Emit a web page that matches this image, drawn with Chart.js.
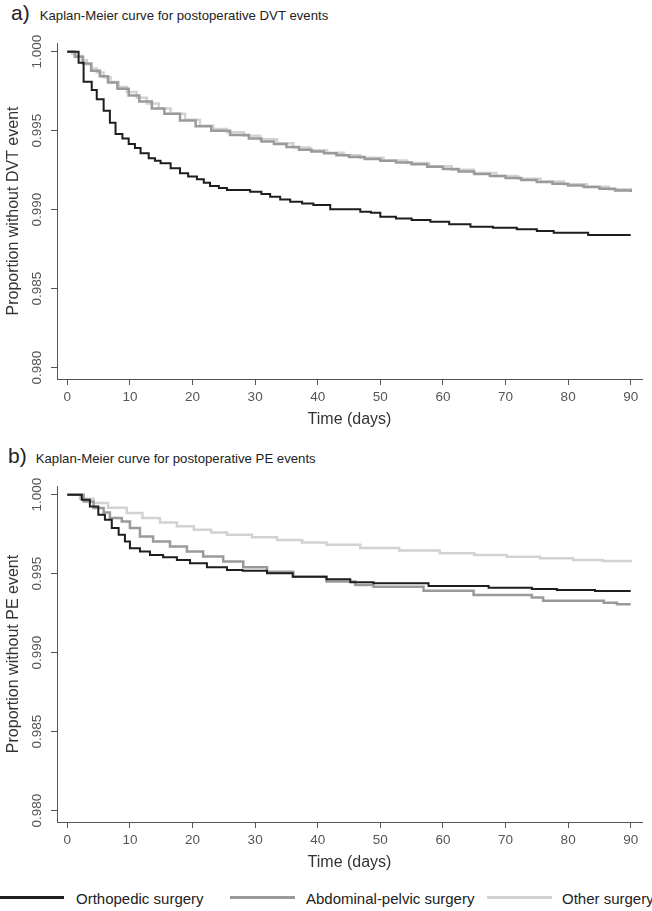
<!DOCTYPE html>
<html>
<head>
<meta charset="utf-8">
<script src="https://cdn.jsdelivr.net/npm/chart.js@4.4.1/dist/chart.umd.min.js"></script>
<style>
  body { margin: 0; background: #fff; font-family: "Liberation Sans", Arial, sans-serif; }
  #page { position: relative; width: 652px; height: 911px; overflow: hidden; }
  .ptitle { position: absolute; white-space: nowrap; color: #222; line-height: 24px; }
  .ptitle .lab { font-size: 21px; }
  .ptitle .txt { font-size: 13.2px; }
  .panel { position: absolute; left: 0; }
  .leg-line { position: absolute; height: 3px; }
  .leg-txt { position: absolute; font-size: 15px; line-height: 18px; color: #222; white-space: nowrap; }
</style>
</head>
<body>
<div id="page">
  <div class="ptitle" style="left:11px; top:1px;"><span class="lab">a)</span><span class="txt" style="margin-left:10px;">Kaplan-Meier curve for postoperative DVT events</span></div>
  <div class="panel" style="top:0;"><canvas id="dvt" width="652" height="440"></canvas></div>

  <div class="ptitle" style="left:8px; top:444px;"><span class="lab">b)</span><span class="txt" style="margin-left:9px;">Kaplan-Meier curve for postoperative PE events</span></div>
  <div class="panel" style="top:443px;"><canvas id="pe" width="652" height="440"></canvas></div>

  <div class="leg-line" style="left:0; width:64px; top:896px; background:#1e1e1e;"></div>
  <div class="leg-txt" style="left:76px; top:890px;">Orthopedic surgery</div>
  <div class="leg-line" style="left:230px; width:65px; top:896px; background:#9a9a9a;"></div>
  <div class="leg-txt" style="left:306px; top:890px;">Abdominal-pelvic surgery</div>
  <div class="leg-line" style="left:487px; width:65px; top:896px; background:#d2d2d2;"></div>
  <div class="leg-txt" style="left:562px; top:890px;">Other surgery</div>
</div>

<script>
// series names and colours
const seriesNames = ['Orthopedic surgery', 'Abdominal-pelvic surgery', 'Other surgery'];
const seriesColors = ['#1e1e1e', '#9a9a9a', '#d2d2d2'];

// axis ticks
const xTicks = [0, 10, 20, 30, 40, 50, 60, 70, 80, 90];
const yTicks = [0.980, 0.985, 0.990, 0.995, 1.000];
const yTickLabels = ['0.980', '0.985', '0.990', '0.995', '1.000'];
const xRange = [-1.65, 91.8];
const yRange = [0.979285, 1.00055];

// a) DVT events - time (days) and proportion without event
const dvtOrthoTime = [0, 1.8, 2.6, 3.9, 4.7, 5.8, 6.8, 7.7, 8.8, 9.8, 10.8, 11.7, 13.0, 14.0, 14.9, 16.5, 18.0, 19.3, 20.7, 21.8, 22.8, 24.2, 25.5, 29.2, 31.0, 32.4, 34.0, 35.6, 37.5, 39.3, 42.0, 46.8, 48.5, 50.0, 52.5, 55.0, 58.0, 61.0, 64.4, 68.0, 71.8, 75.0, 77.7, 83.2, 90.0];
const dvtOrthoSurv = [1.0, 0.9993, 0.9981, 0.99758, 0.99699, 0.99627, 0.99551, 0.99479, 0.9945, 0.99416, 0.9939, 0.99357, 0.99325, 0.9931, 0.99294, 0.99262, 0.9923, 0.9921, 0.99192, 0.9917, 0.9915, 0.99138, 0.99125, 0.99114, 0.991, 0.99082, 0.99065, 0.99051, 0.9904, 0.9903, 0.99003, 0.98987, 0.98981, 0.98956, 0.98945, 0.98935, 0.98924, 0.98908, 0.98892, 0.98885, 0.98876, 0.98865, 0.98854, 0.9884, 0.9884];

const dvtAbdTime = [0, 1.2, 2.5, 3.8, 5.2, 6.5, 8.0, 9.8, 11.5, 13.5, 15.5, 18.0, 20.5, 23.0, 26.0, 29.0, 31.0, 33.0, 35.0, 37.0, 39.0, 41.0, 43.0, 45.0, 47.5, 50.0, 52.5, 55.0, 57.5, 60.0, 62.5, 65.0, 67.5, 70.0, 72.5, 75.0, 77.5, 80.0, 82.5, 85.0, 87.5, 90.0];
const dvtAbdSurv = [1.0, 0.99968, 0.99925, 0.9988, 0.99845, 0.99805, 0.99765, 0.99722, 0.99685, 0.9964, 0.99607, 0.99565, 0.99528, 0.995, 0.99472, 0.9945, 0.99432, 0.99415, 0.99397, 0.9938, 0.99369, 0.99358, 0.99345, 0.99333, 0.99321, 0.9931, 0.99298, 0.99287, 0.99272, 0.99257, 0.99241, 0.99226, 0.99213, 0.992, 0.99188, 0.99176, 0.99164, 0.99153, 0.99143, 0.99133, 0.99122, 0.99112];

const dvtOtherTime = [0, 0.8, 1.5, 2.3, 3.1, 3.9, 4.7, 5.8, 6.9, 8.2, 9.5, 11.1, 12.7, 14.6, 16.5, 18.8, 21.2, 23.3, 25.5, 28.2, 30.8, 33.5, 36.1, 38.8, 41.5, 44.2, 46.8, 50.5, 54.3, 57.8, 61.4, 64.9, 68.5, 72.0, 75.6, 79.3, 83.0, 86.5, 90.0];
const dvtOtherSurv = [1.0, 0.99986, 0.99972, 0.99946, 0.9992, 0.99894, 0.99868, 0.99838, 0.99808, 0.99776, 0.99745, 0.99708, 0.99672, 0.9964, 0.99608, 0.9957, 0.99532, 0.99511, 0.9949, 0.99468, 0.99446, 0.9942, 0.99393, 0.99376, 0.9936, 0.99344, 0.99328, 0.99312, 0.99296, 0.99275, 0.99253, 0.99232, 0.99214, 0.99196, 0.99178, 0.99161, 0.99145, 0.9913, 0.99116];

// b) PE events
const peOrthoTime = [0, 2.3, 3.6, 4.95, 6.0, 7.1, 8.2, 9.2, 10.0, 11.6, 13.2, 15.3, 17.5, 19.6, 22.3, 25.5, 28.0, 31.9, 36.0, 41.4, 45.2, 48.9, 57.7, 67.3, 74.2, 78.2, 84.3, 90.0];
const peOrthoSurv = [1.0, 0.99968, 0.99926, 0.99873, 0.99841, 0.99789, 0.99746, 0.99704, 0.99661, 0.9964, 0.99619, 0.99604, 0.99587, 0.99566, 0.9954, 0.99524, 0.99519, 0.99503, 0.99481, 0.99465, 0.99446, 0.99439, 0.99422, 0.99411, 0.99403, 0.99397, 0.9939, 0.9939];

const peAbdTime = [0, 2.6, 4.2, 5.8, 6.8, 8.7, 10.0, 11.6, 13.7, 16.4, 19.1, 21.7, 24.9, 28.1, 31.9, 36.1, 41.4, 46.0, 48.9, 56.9, 64.9, 74.2, 76.0, 85.7, 87.8, 90.0];
const peAbdSurv = [1.0, 0.99957, 0.99915, 0.99888, 0.99852, 0.99831, 0.99789, 0.99736, 0.99704, 0.99672, 0.9964, 0.99609, 0.99577, 0.99541, 0.99513, 0.99481, 0.9945, 0.99429, 0.99418, 0.99392, 0.99365, 0.9935, 0.99329, 0.99316, 0.99307, 0.99307];

const peOtherTime = [0, 2.0, 4.2, 6.5, 9.5, 12.0, 14.8, 17.5, 20.2, 23.0, 25.5, 29.5, 33.5, 37.5, 41.4, 46.8, 53.0, 59.5, 65.0, 70.2, 75.5, 80.8, 85.5, 90.0];
const peOtherSurv = [1.0, 0.99975, 0.99947, 0.99918, 0.99884, 0.99853, 0.99824, 0.998, 0.99778, 0.9976, 0.99746, 0.9973, 0.99714, 0.99698, 0.99683, 0.99662, 0.99646, 0.9963, 0.99619, 0.99608, 0.99597, 0.99587, 0.9958, 0.99573];

const FONT = '"Liberation Sans", Arial, sans-serif';
const AXIS_GREY = '#555';

// rotated y tick labels, R style (reading bottom to top)
const rotatedYTicks = {
    id: 'rotatedYTicks',
    afterDraw(chart) {
        const scale = chart.scales.y;
        const ctx = chart.ctx;
        ctx.save();
        ctx.font = '13.5px ' + FONT;
        ctx.fillStyle = AXIS_GREY;
        ctx.textAlign = 'center';
        ctx.textBaseline = 'middle';
        yTicks.forEach((v, i) => {
            const py = scale.getPixelForValue(v);
            ctx.save();
            ctx.translate(scale.right - 20, py);
            ctx.rotate(-Math.PI / 2);
            ctx.fillText(yTickLabels[i], 0, 0);
            ctx.restore();
        });
        ctx.restore();
    }
};

function toPoints(times, surv) {
    return times.map((t, i) => ({ x: t, y: surv[i] }));
}

function makeChart(id, curves, yTitle) {
    const datasets = curves.map((c, i) => ({
        label: seriesNames[i],
        data: toPoints(c[0], c[1]),
        borderColor: seriesColors[i],
        borderWidth: i === 0 ? 2 : 2.5,
        stepped: true,
        pointRadius: 0,
        fill: false
    }));

    return new Chart(document.getElementById(id), {
        type: 'line',
        data: { datasets },
        options: {
            responsive: false,
            animation: false,
            devicePixelRatio: 1,
            layout: { padding: { top: 43, right: 10, left: 0, bottom: 0 } },
            plugins: {
                legend: { display: false },
                tooltip: { enabled: false }
            },
            scales: {
                x: {
                    type: 'linear',
                    min: xRange[0],
                    max: xRange[1],
                    afterBuildTicks: s => { s.ticks = xTicks.map(v => ({ value: v })); },
                    afterFit: s => { s.height = 61; },
                    ticks: {
                        color: AXIS_GREY,
                        padding: 4,
                        maxRotation: 0,
                        font: { family: FONT, size: 13.5 },
                        callback: v => String(v)
                    },
                    grid: { drawOnChartArea: false, drawTicks: true, tickLength: 6, tickColor: AXIS_GREY, color: AXIS_GREY },
                    border: { display: true, color: AXIS_GREY, width: 1 },
                    title: {
                        display: true,
                        text: 'Time (days)',
                        color: '#333',
                        font: { family: FONT, size: 16 },
                        padding: { top: 0, bottom: 11 }
                    }
                },
                y: {
                    type: 'linear',
                    min: yRange[0],
                    max: yRange[1],
                    afterBuildTicks: s => { s.ticks = yTicks.map(v => ({ value: v })); },
                    afterFit: s => { s.width = 57; },
                    ticks: { display: false },
                    grid: { drawOnChartArea: false, drawTicks: true, tickLength: 6, tickColor: AXIS_GREY, color: AXIS_GREY },
                    border: { display: true, color: AXIS_GREY, width: 1 },
                    title: {
                        display: true,
                        text: yTitle,
                        color: '#333',
                        font: { family: FONT, size: 16 },
                        padding: { top: 4, bottom: 0 }
                    }
                }
            }
        },
        plugins: [rotatedYTicks]
    });
}

makeChart('dvt', [
    [dvtOrthoTime, dvtOrthoSurv],
    [dvtAbdTime, dvtAbdSurv],
    [dvtOtherTime, dvtOtherSurv]
], 'Proportion without DVT event');

makeChart('pe', [
    [peOrthoTime, peOrthoSurv],
    [peAbdTime, peAbdSurv],
    [peOtherTime, peOtherSurv]
], 'Proportion without PE event');
</script>
</body>
</html>
